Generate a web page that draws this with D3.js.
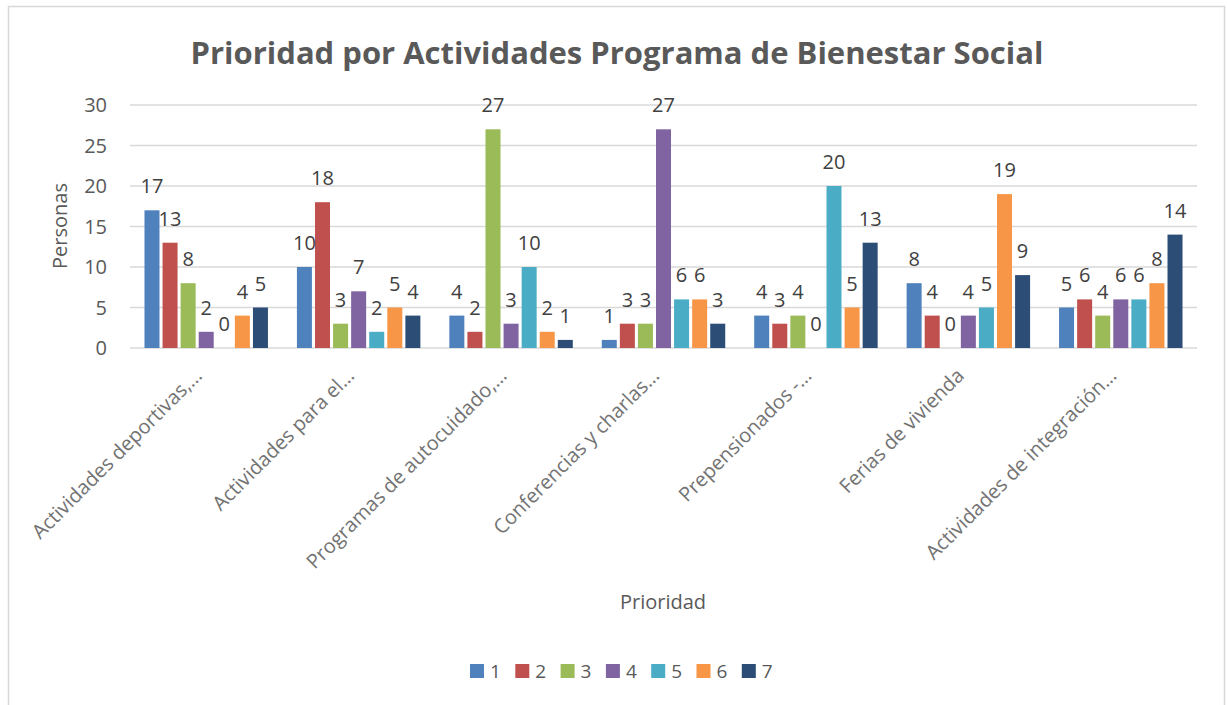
<!DOCTYPE html>
<html lang="es">
<head>
<meta charset="utf-8">
<title>Prioridad por Actividades</title>
<style>
  body { margin: 0; background: #fff; font-family: "Open Sans", "Liberation Sans", sans-serif; }
  svg { display: block; }
</style>
<script src="https://cdn.jsdelivr.net/npm/d3@7"></script>
</head>
<body>
<script>
// data
var categories = ["Actividades deportivas,…", "Actividades para el…", "Programas de autocuidado,…",
  "Conferencias y charlas…", "Prepensionados -…", "Ferias de vivienda", "Actividades de integración…"];
var series = ["1", "2", "3", "4", "5", "6", "7"];
var values1 = [17, 10, 4, 1, 4, 8, 5];
var values2 = [13, 18, 2, 3, 3, 4, 6];
var values3 = [8, 3, 27, 3, 4, 0, 4];
var values4 = [2, 7, 3, 27, 0, 4, 6];
var values5 = [0, 2, 10, 6, 20, 5, 6];
var values6 = [4, 5, 2, 6, 5, 19, 8];
var values7 = [5, 4, 1, 3, 13, 9, 14];
var yTicks = [0, 5, 10, 15, 20, 25, 30];
var colors = ["#4F81BD", "#C0504D", "#9BBB59", "#8064A2", "#4BACC6", "#F79646", "#2C4D75"];

var allValues = [values1, values2, values3, values4, values5, values6, values7];

var width = 1227, height = 705;
var plotLeft = 130, plotRight = 1197, plotTop = 105, plotBottom = 348;

var svg = d3.select("body").append("svg")
  .attr("width", width)
  .attr("height", height);

// chart frame
svg.append("rect")
  .attr("x", 8.5).attr("y", 6.5)
  .attr("width", 1216).attr("height", 720)
  .attr("fill", "#fff")
  .attr("stroke", "#d9d9d9")
  .attr("stroke-width", 1.5);

var x0 = d3.scaleBand().domain(categories).range([plotLeft, plotRight]).paddingInner(0.19).paddingOuter(0.095);
var x1 = d3.scaleBand().domain(series).range([0, x0.bandwidth()]).paddingInner(0.17);
var y = d3.scaleLinear().domain([0, 30]).range([plotBottom, plotTop]);

// gridlines
svg.append("g").selectAll("line")
  .data(yTicks)
  .enter().append("line")
  .attr("x1", plotLeft).attr("x2", plotRight)
  .attr("y1", function(d){ return y(d); })
  .attr("y2", function(d){ return y(d); })
  .attr("stroke", "#d9d9d9")
  .attr("stroke-width", 1.5);

// y tick labels
svg.append("g").selectAll("text")
  .data(yTicks)
  .enter().append("text")
  .attr("x", 107)
  .attr("y", function(d){ return y(d); })
  .attr("dy", "0.35em")
  .attr("text-anchor", "end")
  .attr("fill", "#595959")
  .style("font-size", "20px")
  .text(function(d){ return d; });

// bars
var groups = svg.append("g").selectAll("g")
  .data(categories)
  .enter().append("g")
  .attr("transform", function(d){ return "translate(" + x0(d) + ",0)"; });

groups.each(function(cat, ci) {
  var g = d3.select(this);
  var rows = series.map(function(s, si){ return { s: s, si: si, v: allValues[si][ci] }; });
  g.selectAll("rect")
    .data(rows)
    .enter().append("rect")
    .attr("x", function(d){ return x1(d.s); })
    .attr("y", function(d){ return y(d.v); })
    .attr("width", x1.bandwidth())
    .attr("height", function(d){ return y(0) - y(d.v); })
    .attr("fill", function(d){ return colors[d.si]; });
  g.selectAll("text")
    .data(rows)
    .enter().append("text")
    .attr("x", function(d){ return x1(d.s) + x1.bandwidth() / 2; })
    .attr("y", function(d){ return y(d.v) - 17; })
    .attr("text-anchor", "middle")
    .attr("fill", "#404040")
    .style("font-size", "20px")
    .text(function(d){ return d.v; });
});

// category labels, rotated
svg.append("g").selectAll("text")
  .data(categories)
  .enter().append("text")
  .attr("transform", function(d){
    return "translate(" + (x0(d) + x0.bandwidth() / 2 - 8) + "," + 372 + ") rotate(-45)";
  })
  .attr("text-anchor", "end")
  .attr("dy", "0.35em")
  .attr("fill", "#737373")
  .style("font-size", "20px")
  .text(function(d){ return d; });

// title
svg.append("text")
  .attr("x", 617).attr("y", 64)
  .attr("text-anchor", "middle")
  .attr("fill", "#595959")
  .style("font-size", "31px")
  .style("font-weight", "bold")
  .text("Prioridad por Actividades Programa de Bienestar Social");

// axis titles
svg.append("text")
  .attr("transform", "translate(67,226) rotate(-90)")
  .attr("text-anchor", "middle")
  .attr("fill", "#595959")
  .style("font-size", "20px")
  .text("Personas");

svg.append("text")
  .attr("x", 663).attr("y", 609)
  .attr("text-anchor", "middle")
  .attr("fill", "#595959")
  .style("font-size", "20px")
  .text("Prioridad");

// legend
var legend = svg.append("g").selectAll("g")
  .data(series)
  .enter().append("g")
  .attr("transform", function(d, i){ return "translate(" + (470 + i * 45.3) + ",664)"; });
legend.append("rect")
  .attr("width", 14).attr("height", 14)
  .attr("fill", function(d, i){ return colors[i]; });
legend.append("text")
  .attr("x", 20).attr("y", 7)
  .attr("dy", "0.35em")
  .attr("fill", "#595959")
  .style("font-size", "19px")
  .text(function(d){ return d; });
</script>
</body>
</html>
